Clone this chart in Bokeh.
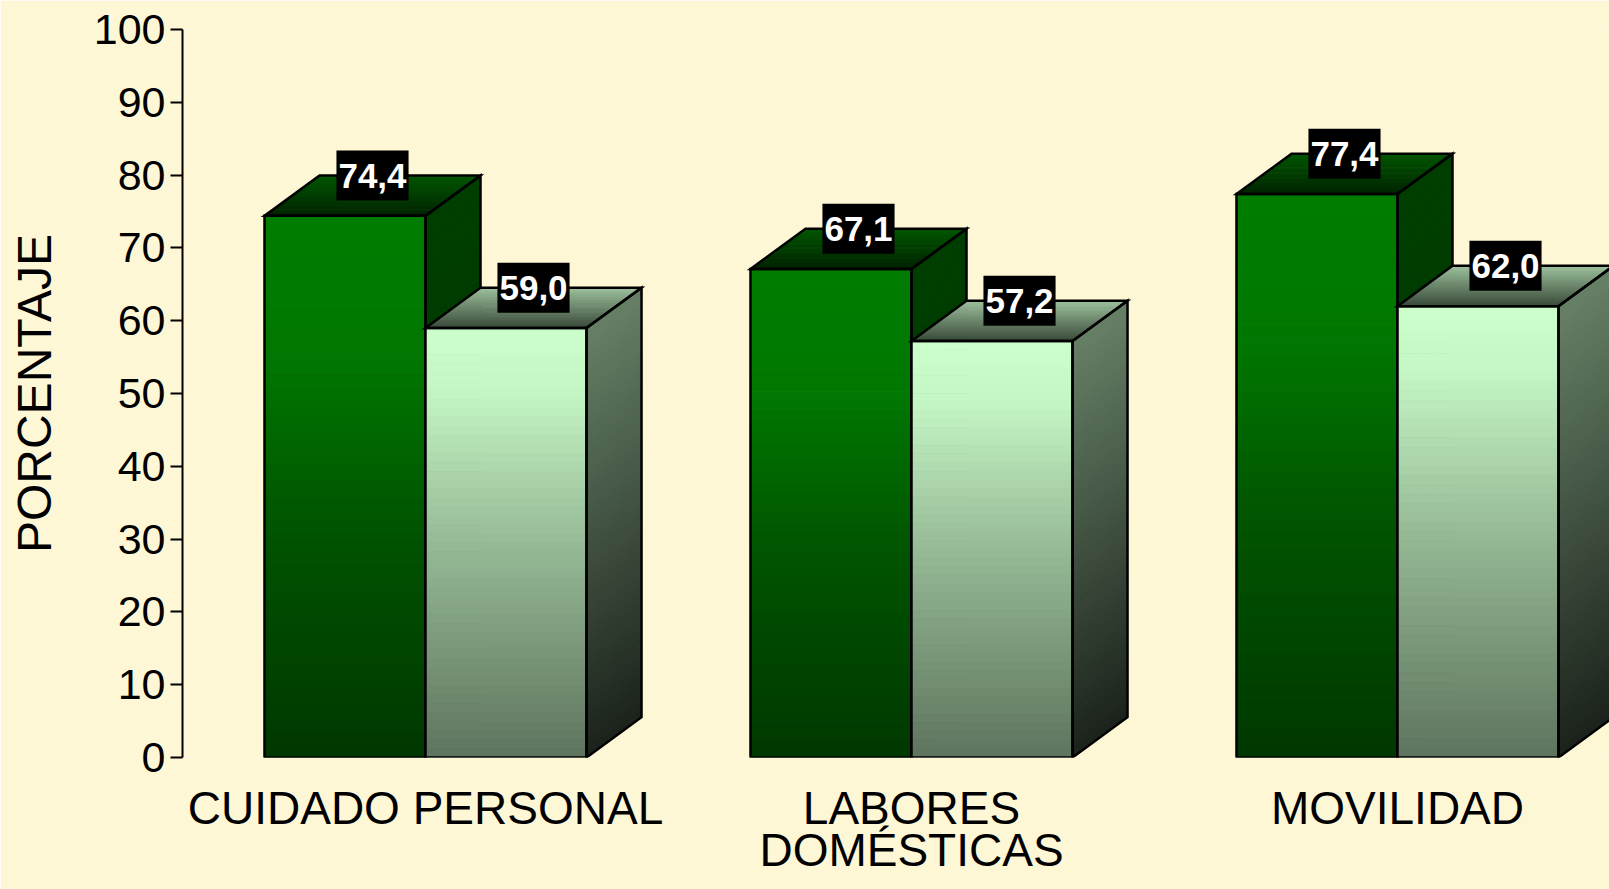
import numpy as np
from bokeh.plotting import figure
from bokeh.models import Range1d, FixedTicker
from bokeh.core.properties import value
from bokeh.embed import file_html
from bokeh.resources import INLINE

# ---------------- data ----------------
categories = ["CUIDADO PERSONAL", "LABORES\nDOMÉSTICAS", "MOVILIDAD"]
serie_oscura = [74.4, 67.1, 77.4]
serie_clara = [59.0, 57.2, 62.0]
etiquetas_oscura = ["74,4", "67,1", "77,4"]
etiquetas_clara = ["59,0", "57,2", "62,0"]
y_ticks = [0, 10, 20, 30, 40, 50, 60, 70, 80, 90, 100]

# ---------------- style / geometry ----------------
BG = "#FEF7D6"
FONT = "Liberation Sans"
W = 0.3313      # bar width (x units, 1 unit = one category)
DX = 0.1132     # 3D depth offset x
DY = 5.54       # 3D depth offset y
N_STRIPS = 48

# gradient stops: (fraction, (r,g,b))
dark_front = [(0.0, (0, 124, 0)), (0.25, (0, 120, 0)), (0.6, (0, 82, 0)), (1.0, (0, 56, 0))]
dark_side = [(0.0, (0, 62, 0)), (1.0, (0, 50, 0))]
dark_top = [(0.0, (0, 34, 0)), (1.0, (0, 86, 0))]          # front -> back
light_front = [(0.0, (204, 255, 204)), (0.15, (196, 245, 196)), (0.5, (150, 186, 150)), (1.0, (94, 116, 94))]
light_side = [(0.0, (102, 128, 102)), (1.0, (27, 34, 27))]
light_top = [(0.0, (56, 72, 56)), (1.0, (156, 192, 156))]   # front -> back


def grad(stops, t):
    for (t0, c0), (t1, c1) in zip(stops[:-1], stops[1:]):
        if t <= t1:
            f = 0.0 if t1 == t0 else min(max((t - t0) / (t1 - t0), 0), 1)
            c = [round(a + (b - a) * f) for a, b in zip(c0, c1)]
            return "#%02x%02x%02x" % tuple(c)
    c = stops[-1][1]
    return "#%02x%02x%02x" % tuple(c)


p = figure(width=1609, height=889,
           x_range=Range1d(-0.5, -0.5 + 1427 / 486), y_range=Range1d(0, 100),
           output_backend="svg", toolbar_location=None,
           min_border_left=182, min_border_right=0, min_border_top=29, min_border_bottom=132,
           background_fill_color=BG, border_fill_color=BG)
p.outline_line_color = None
p.grid.visible = False


def draw_series(vals, offset, fstops, sstops, tstops):
    fl, fr, ft, fb, fc = [], [], [], [], []
    sx, sy, sc = [], [], []
    tx, ty, tc = [], [], []
    ox, oy = [], []
    for i, v in enumerate(vals):
        xl = i + offset
        xr = xl + W
        for k in range(N_STRIPS):
            t0, t1 = k / N_STRIPS, (k + 1) / N_STRIPS
            ya, yb = v * (1 - t0), v * (1 - t1)
            fl.append(xl); fr.append(xr); ft.append(ya); fb.append(yb)
            fc.append(grad(fstops, (t0 + t1) / 2))
            sx.append([xr, xr + DX, xr + DX, xr])
            sy.append([ya, ya + DY, yb + DY, yb])
            sc.append(grad(sstops, (t0 + t1) / 2))
        M = 24
        for k in range(M):
            a, b = k / M, (k + 1) / M
            tx.append([xl + a * DX, xr + a * DX, xr + b * DX, xl + b * DX])
            ty.append([v + a * DY, v + a * DY, v + b * DY, v + b * DY])
            tc.append(grad(tstops, (a + b) / 2))
        ox += [[xl, xr, xr, xl],
               [xr, xr + DX, xr + DX, xr],
               [xl, xr, xr + DX, xl + DX]]
        oy += [[0, 0, v, v],
               [0, DY, v + DY, v],
               [v, v, v + DY, v + DY]]
    p.quad(left=fl, right=fr, top=ft, bottom=fb, fill_color=fc, line_color=fc, line_width=1)
    p.patches(sx, sy, fill_color=sc, line_color=sc, line_width=1)
    p.patches(tx, ty, fill_color=tc, line_color=tc, line_width=1)
    p.patches(ox, oy, fill_alpha=0, line_color="black", line_width=2.5, line_join="miter")


draw_series(serie_oscura, -W, dark_front, dark_side, dark_top)
draw_series(serie_clara, 0.0, light_front, light_side, light_top)

# value labels
lx = [i - W / 2 + DX / 2 for i in range(len(serie_oscura))] + [i + W / 2 + DX / 2 for i in range(len(serie_clara))]
ly = [v + DY for v in serie_oscura] + [v + DY for v in serie_clara]
lt = etiquetas_oscura + etiquetas_clara
p.text(x=lx, y=ly, text=lt, text_font=value(FONT), text_font_style="bold",
       text_font_size="35px", text_color="white", text_align="center", text_baseline="middle",
       background_fill_color="black", padding=dict(left=2, right=2, top=13, bottom=13))

# y axis
ya = p.yaxis[0]
ya.ticker = FixedTicker(ticks=y_ticks)
ya.major_label_text_font = FONT
ya.major_label_text_font_size = "43px"
ya.major_label_text_color = "black"
ya.major_label_standoff = 5
ya.axis_line_width = 2
ya.axis_line_color = "black"
ya.major_tick_line_width = 2
ya.major_tick_line_color = "black"
ya.major_tick_out = 12
ya.major_tick_in = 0
ya.minor_tick_line_color = None
ya.axis_label = "PORCENTAJE"
ya.axis_label_text_font = FONT
ya.axis_label_text_font_size = "48px"
ya.axis_label_text_font_style = "normal"
ya.axis_label_text_color = "black"
ya.axis_label_standoff = 30

# x axis
xa = p.xaxis[0]
xa.ticker = FixedTicker(ticks=list(range(len(categories))))
xa.major_label_overrides = {i: c for i, c in enumerate(categories)}
xa.major_label_text_font = FONT
xa.major_label_text_font_size = "46px"
xa.major_label_text_color = "black"
xa.major_label_text_line_height = 0.82
xa.major_label_standoff = 24
xa.axis_line_color = None
xa.major_tick_line_color = None
xa.major_tick_out = 0
xa.major_tick_in = 0
xa.minor_tick_line_color = None

open("out.html", "w").write(file_html(p, INLINE))
